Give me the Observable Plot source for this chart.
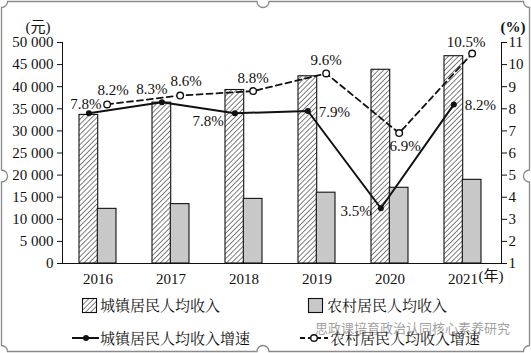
<!DOCTYPE html>
<html>
<head>
<meta charset="utf-8">
<script src="https://cdn.jsdelivr.net/npm/d3@7"></script>
<script src="https://cdn.jsdelivr.net/npm/@observablehq/plot@0.6"></script>
<style>
  html, body { margin: 0; padding: 0; background: #fff; }
  #wrap { position: relative; width: 531px; height: 353px; overflow: hidden; background: #fff; }
  #chart { position: absolute; left: 0; top: 0; }
  .leg { position: absolute; font-family: "Noto Serif CJK SC", "Noto Sans CJK SC", sans-serif; font-size: 15px; color: #111; white-space: nowrap; line-height: 1; }
  .wm { position: absolute; font-family: "Noto Sans CJK SC", sans-serif; font-size: 13px; color: #555; opacity: 0.55; white-space: nowrap; line-height: 1; }
  svg.overlay { position: absolute; left: 0; top: 0; pointer-events: none; }
</style>
</head>
<body>
<svg width="0" height="0" style="position:absolute">
  <defs>
    <pattern id="hatch" width="3.6" height="3.6" patternUnits="userSpaceOnUse" patternTransform="rotate(45)">
      <rect width="3.6" height="3.6" fill="#fff"></rect>
      <line x1="0" y1="0" x2="0" y2="3.6" stroke="#000" stroke-width="1"></line>
    </pattern>
  </defs>
</svg>
<div id="wrap">
  <div id="chart"></div>
</div>
<script>
// ---- data ----
const years = ["2016", "2017", "2018", "2019", "2020", "2021"];
const cityIncome = [33616, 36396, 39251, 42359, 43834, 46900];
const ruralIncome = [12363, 13432, 14617, 16021, 17131, 18931];
const cityGrowth = [7.8, 8.3, 7.8, 7.9, 3.5, 8.2];
const ruralGrowth = [8.2, 8.6, 8.8, 9.6, 6.9, 10.5];
const leftTicks = [0, 5000, 10000, 15000, 20000, 25000, 30000, 35000, 40000, 45000, 50000];
const rightTickLabels = [1, 2, 3, 4, 5, 6, 7, 8, 9, 10, 11];
const legendLabels = ["城镇居民人均收入", "农村居民人均收入", "城镇居民人均收入增速", "农村居民人均收入增速"];
const unitLeft = "(元)", unitRight = "(%)", unitX = "(年)";
const watermark = "思政课培育政治认同核心素养研究";

// map the right axis (1–11 %) onto the left scale (0–50 000)
const pct = p => (p - 1) * 5000;

const rows = years.map((year, i) => ({
  year, city: cityIncome[i], rural: ruralIncome[i],
  cg: cityGrowth[i], rg: ruralGrowth[i]
}));

const W = 531, H = 290, mL = 62, mR = 30, mT = 42, mB = 27;
const padIn = 0.5, padOut = 0.25;
const shift = 1.6;
const step = (W - mL - mR) / (years.length - padIn + 2 * padOut);
const bw = step * (1 - padIn);
const half = bw / 2, off = bw / 4;

const serif = '"Liberation Serif", "Times New Roman", serif';
const fmtLeft = d => d === 0 ? "0" : d3.format(",")(d).replace(/,/g, " ");
const lbl = v => v.toFixed(1) + "%";
const inYears = list => d => list.includes(d.year);

const txt = {fontSize: 15, fill: "#111", fontFamily: serif};

const chart = Plot.plot({
  width: W, height: H,
  marginLeft: mL, marginRight: mR, marginTop: mT, marginBottom: mB,
  style: {fontFamily: serif, fontSize: "15px", color: "#111", background: "transparent"},
  x: {type: "band", domain: years, paddingInner: padIn, paddingOuter: padOut, range: [mL - shift, W - mR - shift]},
  y: {domain: [0, 50000]},
  marks: [
    Plot.barY(rows, {x: "year", y: "city", fill: "url(#hatch)", stroke: "#111", strokeWidth: 1.1, insetRight: half}),
    Plot.barY(rows, {x: "year", y: "rural", fill: "#c8c8c8", stroke: "#111", strokeWidth: 1.1, insetLeft: half}),
    Plot.frame({anchor: "left", stroke: "#111"}),
    Plot.frame({anchor: "right", stroke: "#111"}),
    Plot.ruleY([0], {stroke: "#111"}),
    Plot.axisY({anchor: "left", ticks: leftTicks, tickFormat: fmtLeft, tickSize: 5, tickPadding: 4, label: null}),
    Plot.axisY({anchor: "right", ticks: leftTicks, tickFormat: (d, i) => rightTickLabels[i], tickSize: 5, tickPadding: 2, label: null}),
    Plot.axisX({tickSize: 0, tickPadding: 10, label: null}),
    // growth lines
    Plot.line(rows, {x: "year", y: d => pct(d.rg), dx: off, stroke: "#111", strokeWidth: 1.8, strokeDasharray: "6,4"}),
    Plot.line(rows, {x: "year", y: d => pct(d.cg), dx: -off, stroke: "#111", strokeWidth: 2}),
    Plot.dot(rows, {x: "year", y: d => pct(d.rg), dx: off, r: 3.3, fill: "#fff", stroke: "#111", strokeWidth: 1.4}),
    Plot.dot(rows, {x: "year", y: d => pct(d.cg), dx: -off, r: 3, fill: "#111"}),
    // rural growth labels
    Plot.text(rows, {filter: inYears(["2016", "2017"]), x: "year", y: d => pct(d.rg), text: d => lbl(d.rg), dx: off + 6, dy: -14, ...txt}),
    Plot.text(rows, {filter: inYears(["2018", "2019"]), x: "year", y: d => pct(d.rg), text: d => lbl(d.rg), dx: off, dy: -13, ...txt}),
    Plot.text(rows, {filter: inYears(["2021"]), x: "year", y: d => pct(d.rg), text: d => lbl(d.rg), dx: off - 6, dy: -11, ...txt}),
    Plot.text(rows, {filter: inYears(["2020"]), x: "year", y: d => pct(d.rg), text: d => lbl(d.rg), dx: off + 6, dy: 13, ...txt}),
    // city growth labels
    Plot.text(rows, {filter: inYears(["2016"]), x: "year", y: d => pct(d.cg), text: d => lbl(d.cg), dx: -off - 3, dy: -9, ...txt}),
    Plot.text(rows, {filter: inYears(["2017"]), x: "year", y: d => pct(d.cg), text: d => lbl(d.cg), dx: -off - 10, dy: -13, ...txt}),
    Plot.text(rows, {filter: inYears(["2018"]), x: "year", y: d => pct(d.cg), text: d => lbl(d.cg), dx: -off - 11, dy: 8, textAnchor: "end", ...txt}),
    Plot.text(rows, {filter: inYears(["2019", "2021"]), x: "year", y: d => pct(d.cg), text: d => lbl(d.cg), dx: -off + 11, dy: 1, textAnchor: "start", ...txt}),
    Plot.text(rows, {filter: inYears(["2020"]), x: "year", y: d => pct(d.cg), text: d => lbl(d.cg), dx: -off - 9, dy: 3, textAnchor: "end", ...txt}),
    // unit labels
    Plot.text([unitLeft], {frameAnchor: "top-left", textAnchor: "end", dx: -12, dy: -21, fontSize: 15, fill: "#111", fontFamily: '"Liberation Serif", "Noto Sans CJK SC", serif'}),
    Plot.text([unitRight], {frameAnchor: "top-right", textAnchor: "start", dx: -1, dy: -21, fontSize: 15, fontWeight: "bold", fill: "#111"}),
    Plot.text([unitX], {frameAnchor: "bottom-right", textAnchor: "end", dx: 2, dy: 17, fontSize: 15, fill: "#111", fontFamily: '"Liberation Serif", "Noto Sans CJK SC", serif'})
  ]
});
document.getElementById("chart").appendChild(chart);

// ---- legend (HTML below the svg) ----
const wrap = document.getElementById("wrap");
function add(html) { wrap.insertAdjacentHTML("beforeend", html); }
add(`<svg class="overlay" width="531" height="353">
  <rect x="82.5" y="298.5" width="14" height="14" fill="url(#hatch)" stroke="#111" stroke-width="1.1"/>
  <rect x="308.5" y="298.5" width="14" height="14" fill="#c8c8c8" stroke="#111" stroke-width="1.1"/>
  <line x1="72" y1="338" x2="99" y2="338" stroke="#111" stroke-width="2"/>
  <circle cx="86" cy="338" r="3" fill="#111"/>
  <line x1="300" y1="338" x2="328" y2="338" stroke="#111" stroke-width="1.8" stroke-dasharray="5,3"/>
  <circle cx="314" cy="338" r="3.3" fill="#fff" stroke="#111" stroke-width="1.4"/>
</svg>`);
add(`<div class="leg" style="left:100px;top:297px">${legendLabels[0]}</div>`);
add(`<div class="leg" style="left:327px;top:297px">${legendLabels[1]}</div>`);
add(`<div class="leg" style="left:100px;top:330px">${legendLabels[2]}</div>`);
add(`<div class="leg" style="left:330px;top:330px">${legendLabels[3]}</div>`);
add(`<div class="wm" style="left:315px;top:321px">${watermark}</div>`);

// decorative frame with concave corners and notches
const L = 1.5, T = 1.5, R = 529.5, B = 351.5, r = 6, n = 6, mx = 263, my = 176;
const path = `M${L + r},${T} H${mx - n} A${n},${n} 0 0 0 ${mx + n},${T} H${R - r} A${r},${r} 0 0 0 ${R},${T + r}
 V${my - n} A${n},${n} 0 0 0 ${R},${my + n} V${B - r} A${r},${r} 0 0 0 ${R - r},${B}
 H${mx + n} A${n},${n} 0 0 0 ${mx - n},${B} H${L + r} A${r},${r} 0 0 0 ${L},${B - r}
 V${my + n} A${n},${n} 0 0 0 ${L},${my - n} V${T + r} A${r},${r} 0 0 0 ${L + r},${T} Z`;
add(`<svg class="overlay" width="531" height="353"><path d="${path}" fill="none" stroke="#8a8a8a" stroke-width="1.3"/></svg>`);
</script>
</body>
</html>
